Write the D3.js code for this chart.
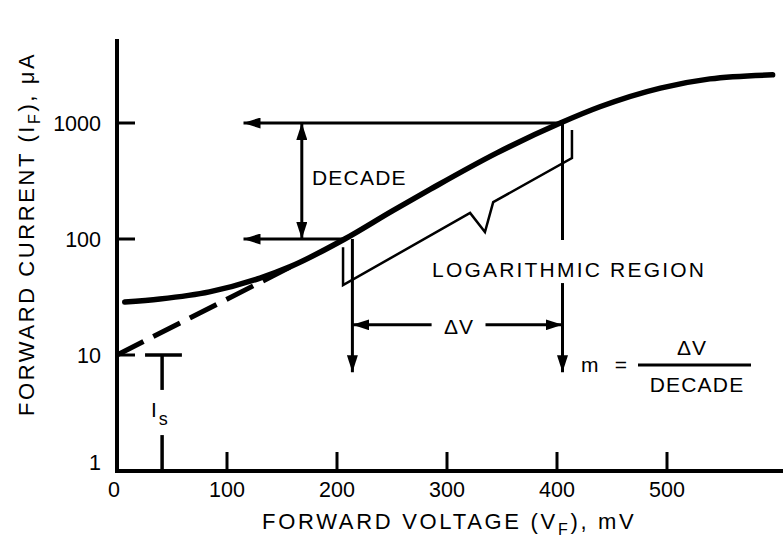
<!DOCTYPE html>
<html>
<head>
<meta charset="utf-8">
<script src="https://cdn.jsdelivr.net/npm/d3@7"></script>
<style>
  body { margin: 0; background: #fff; }
  text { font-family: "Liberation Sans", Arial, sans-serif; fill: #000; }
</style>
</head>
<body>
<div id="chart"></div>
<script>
// diode forward characteristic
var curveV = [7, 39, 84, 130, 157, 207, 250, 285, 345, 403, 439, 494, 539, 596];
var curveI = [28.6, 30.4, 35, 46, 57.5, 100, 174, 269, 550, 1000, 1380, 2000, 2400, 2600];

// straight line extrapolation of the log region back to V = 0
var extrapV = [0, 157];
var extrapI = [10, 57];

// pointer that marks the logarithmic region
var bracketV = [205.5, 205.5, 321, 334.5, 342, 413.6, 413.6];
var bracketI = [85, 40, 168, 115, 208, 499, 871];

var xTicks = [0, 100, 200, 300, 400, 500];
var yTicks = [1, 10, 100, 1000];

var svgWidth = 783;
var svgHeight = 539;

var svg = d3.select("#chart")
  .append("svg")
  .attr("width", svgWidth)
  .attr("height", svgHeight);

var x = d3.scaleLinear().domain([0, 605]).range([117, 782.5]);
var y = d3.scaleLog().domain([1, 10000]).range([471, 7]);

// arrow heads
var defs = svg.append("defs");
defs.append("marker")
  .attr("id", "head")
  .attr("markerUnits", "userSpaceOnUse")
  .attr("viewBox", "0 0 17 11")
  .attr("refX", 17)
  .attr("refY", 5.5)
  .attr("markerWidth", 17)
  .attr("markerHeight", 11)
  .attr("orient", "auto-start-reverse")
  .append("path")
  .attr("d", "M0,0 L17,5.5 L0,11 Z")
  .attr("fill", "#000");

// axes
svg.append("line")
  .attr("x1", x(0)).attr("x2", x(0))
  .attr("y1", y(1) + 2).attr("y2", y(5300))
  .attr("stroke", "#000").attr("stroke-width", 4);

svg.append("line")
  .attr("x1", x(0) - 2).attr("x2", svgWidth)
  .attr("y1", y(1)).attr("y2", y(1))
  .attr("stroke", "#000").attr("stroke-width", 4);

svg.selectAll(".xtick")
  .data(xTicks.slice(1))
  .enter()
  .append("line")
  .attr("class", "xtick")
  .attr("x1", d => x(d)).attr("x2", d => x(d))
  .attr("y1", y(1)).attr("y2", y(1) - 19)
  .attr("stroke", "#000").attr("stroke-width", 3);

svg.selectAll(".ytick")
  .data(yTicks.slice(1))
  .enter()
  .append("line")
  .attr("class", "ytick")
  .attr("x1", x(0)).attr("x2", x(0) + 18)
  .attr("y1", d => y(d)).attr("y2", d => y(d))
  .attr("stroke", "#000").attr("stroke-width", 3);

svg.selectAll(".xlab")
  .data(xTicks)
  .enter()
  .append("text")
  .attr("class", "xlab")
  .attr("x", d => x(d) - (d === 0 ? 3 : 0))
  .attr("y", 497)
  .attr("text-anchor", "middle")
  .attr("font-size", 21.5)
  .text(d => d);

svg.selectAll(".ylab")
  .data(yTicks)
  .enter()
  .append("text")
  .attr("class", "ylab")
  .attr("x", 101)
  .attr("y", d => y(d) + (d === 1 ? -1 : 7.5))
  .attr("text-anchor", "end")
  .attr("font-size", 21.5)
  .text(d => d);

// axis titles
var xTitle = svg.append("text")
  .attr("x", 262)
  .attr("y", 529)
  .attr("font-size", 22)
  .attr("letter-spacing", 2.7);
xTitle.append("tspan").text("FORWARD VOLTAGE (V");
xTitle.append("tspan").attr("font-size", 16).attr("dy", 6).text("F");
xTitle.append("tspan").attr("dy", -6).text("), mV");

var yTitle = svg.append("text")
  .attr("transform", "translate(34, 416) rotate(-90)")
  .attr("font-size", 22)
  .attr("letter-spacing", 2.6);
yTitle.append("tspan").text("FORWARD CURRENT (I");
yTitle.append("tspan").attr("font-size", 16).attr("dy", 6).text("F");
yTitle.append("tspan").attr("dy", -6).text("), \u03bcA");

var line = d3.line()
  .x(d => x(d[0]))
  .y(d => y(d[1]));

// main curve
svg.append("path")
  .datum(d3.zip(curveV, curveI))
  .attr("d", line.curve(d3.curveMonotoneX))
  .attr("fill", "none")
  .attr("stroke", "#000")
  .attr("stroke-width", 5.5)
  .attr("stroke-linecap", "round");

// dashed extrapolation
svg.append("path")
  .datum(d3.zip(extrapV, extrapI).reverse())
  .attr("d", d3.line().x(d => x(d[0])).y(d => y(d[1])))
  .attr("fill", "none")
  .attr("stroke", "#000")
  .attr("stroke-width", 5)
  .attr("stroke-dasharray", "30,11");

// region pointer
svg.append("path")
  .datum(d3.zip(bracketV, bracketI))
  .attr("d", d3.line().x(d => x(d[0])).y(d => y(d[1])))
  .attr("fill", "none")
  .attr("stroke", "#000")
  .attr("stroke-width", 2.5)
  .attr("stroke-linejoin", "miter");

function arrow(v1, i1, v2, i2, twoHeads) {
  var a = svg.append("line")
    .attr("x1", x(v1)).attr("y1", y(i1))
    .attr("x2", x(v2)).attr("y2", y(i2))
    .attr("stroke", "#000")
    .attr("stroke-width", 3)
    .attr("marker-end", "url(#head)");
  if (twoHeads) a.attr("marker-start", "url(#head)");
  return a;
}

function seg(v1, i1, v2, i2, w) {
  svg.append("line")
    .attr("x1", x(v1)).attr("y1", y(i1))
    .attr("x2", x(v2)).attr("y2", y(i2))
    .attr("stroke", "#000")
    .attr("stroke-width", w || 3);
}

// decade arrows
arrow(403, 1000, 115, 1000);
arrow(207, 100, 115, 100);
arrow(168, 1000, 168, 100, true);

// delta V arrows
arrow(214, 100, 214, 7.1);
seg(405, 1000, 405, 98);
arrow(405, 41.7, 405, 7.1);
arrow(286, 18.2, 214, 18.2);
arrow(335, 18.2, 405, 18.2);

// Is marker
seg(25.5, 10, 59, 10, 3.5);
seg(41, 10, 41, 5, 3.5);
seg(41, 1, 41, 2.04, 3.5);

// labels
svg.append("text")
  .attr("x", 312).attr("y", 185)
  .attr("font-size", 21).attr("letter-spacing", 1.2)
  .text("DECADE");

svg.append("text")
  .attr("x", 432).attr("y", 277)
  .attr("font-size", 21).attr("letter-spacing", 2.2)
  .text("LOGARITHMIC REGION");

svg.append("text")
  .attr("x", 459).attr("y", 334)
  .attr("text-anchor", "middle")
  .attr("font-size", 21).attr("letter-spacing", 1)
  .text("\u0394V");

var isLab = svg.append("text")
  .attr("x", 151).attr("y", 417)
  .attr("font-size", 21);
isLab.append("tspan").text("I");
isLab.append("tspan").attr("dx", 2).attr("dy", 8).attr("font-size", 18).text("s");

// slope formula
svg.append("text")
  .attr("x", 581).attr("y", 372)
  .attr("font-size", 21)
  .text("m");
svg.append("text")
  .attr("x", 621).attr("y", 372)
  .attr("text-anchor", "middle")
  .attr("font-size", 21)
  .text("=");
svg.append("line")
  .attr("x1", 638).attr("x2", 751)
  .attr("y1", 365).attr("y2", 365)
  .attr("stroke", "#000").attr("stroke-width", 3);
svg.append("text")
  .attr("x", 692).attr("y", 355)
  .attr("text-anchor", "middle")
  .attr("font-size", 21).attr("letter-spacing", 1)
  .text("\u0394V");
svg.append("text")
  .attr("x", 697).attr("y", 392)
  .attr("text-anchor", "middle")
  .attr("font-size", 21).attr("letter-spacing", 1.2)
  .text("DECADE");
</script>
</body>
</html>
